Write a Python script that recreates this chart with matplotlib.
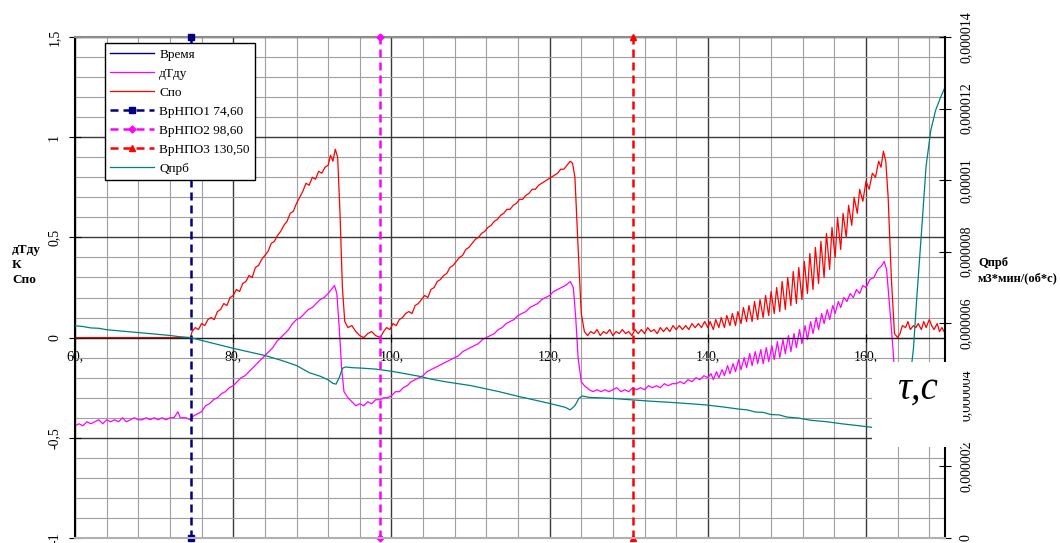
import matplotlib

matplotlib.use('Agg')
import matplotlib.pyplot as plt
from matplotlib.patches import Rectangle

# ---- data ----
x_limits = [60, 170]
y_limits = [-1.0, 1.5]
q_limits = [0.0, 0.000014]

x_ticks = [60, 80, 100, 120, 140, 160]
x_tick_labels = ['60,', '80,', '100,', '120,', '140,', '160,']
y_ticks = [-1.0, -0.5, 0.0, 0.5, 1.0, 1.5]
y_tick_labels = ['-1', '-0,5', '0', '0,5', '1', '1,5']
q_ticks = [0.0, 0.000002, 0.000004, 0.000006, 0.000008, 0.00001, 0.000012, 0.000014]
q_tick_labels = ['0', '0,000002', '0,000004', '0,000006', '0,000008',
                 '0,00001', '0,000012', '0,000014']

# Спо
spo_pts = [
    (60.0, 0.0), (74.6, 0.0), (74.8, 0.03), (75.2, 0.05), (75.6, 0.04), (76.0, 0.07), (76.4, 0.06),
    (76.8, 0.09), (77.2, 0.10), (77.6, 0.09), (78.0, 0.13), (78.4, 0.14), (78.8, 0.17), (79.2, 0.16),
    (79.6, 0.20), (80.0, 0.21), (80.4, 0.24), (80.8, 0.23), (81.2, 0.27), (81.6, 0.28), (82.0, 0.31),
    (82.4, 0.30), (82.8, 0.35), (83.2, 0.36), (83.6, 0.39), (84.0, 0.41), (84.4, 0.43), (84.8, 0.47),
    (85.2, 0.48), (85.6, 0.51), (86.0, 0.53), (86.4, 0.56), (86.8, 0.58), (87.2, 0.62), (87.6, 0.63),
    (88.0, 0.67), (88.4, 0.70), (88.8, 0.73), (89.2, 0.77), (89.6, 0.76), (90.0, 0.80), (90.4, 0.79),
    (90.8, 0.83), (91.2, 0.82), (91.6, 0.85), (92.0, 0.86), (92.3, 0.91), (92.6, 0.88), (92.9, 0.94),
    (93.2, 0.90), (93.5, 0.62), (93.8, 0.25), (94.1, 0.08), (94.5, 0.05), (95.0, 0.06), (95.5, 0.03),
    (96.0, 0.01), (96.5, 0.0), (97.0, 0.02), (97.5, 0.03), (98.0, 0.01), (98.6, 0.0),
    (99.0, 0.03), (99.4, 0.05), (99.8, 0.04), (100.2, 0.07), (100.6, 0.06), (101.0, 0.09), (101.4, 0.10),
    (101.8, 0.12), (102.2, 0.13), (102.6, 0.12), (103.0, 0.16), (103.4, 0.17), (103.8, 0.19),
    (104.2, 0.21), (104.6, 0.20), (105.0, 0.24), (105.4, 0.25), (105.8, 0.28), (106.2, 0.29),
    (106.6, 0.31), (107.0, 0.32), (107.4, 0.35), (107.8, 0.36), (108.2, 0.38), (108.6, 0.40),
    (109.0, 0.41), (109.4, 0.44), (109.8, 0.45), (110.2, 0.47), (110.6, 0.49), (111.0, 0.50),
    (111.4, 0.52), (111.8, 0.53), (112.2, 0.55), (112.6, 0.56), (113.0, 0.58), (113.4, 0.59),
    (113.8, 0.61), (114.2, 0.62), (114.6, 0.64), (115.0, 0.64), (115.4, 0.66), (115.8, 0.67),
    (116.2, 0.69), (116.6, 0.69), (117.0, 0.71), (117.4, 0.72), (117.8, 0.74), (118.2, 0.74),
    (118.6, 0.76), (119.0, 0.77), (119.4, 0.78), (119.8, 0.79), (120.2, 0.80), (120.6, 0.81),
    (121.0, 0.82), (121.4, 0.84), (121.8, 0.84), (122.2, 0.86), (122.6, 0.88), (122.9, 0.87),
    (123.2, 0.80), (123.6, 0.45), (124.0, 0.12), (124.4, 0.03),
    (124.8, 0.01), (125.2, 0.03), (125.6, 0.02), (126.0, 0.04), (126.4, 0.01), (126.8, 0.03),
    (127.2, 0.02), (127.6, 0.04), (128.0, 0.01), (128.4, 0.03), (128.8, 0.02), (129.2, 0.04),
    (129.6, 0.02), (130.0, 0.03), (130.4, 0.01), (130.8, 0.04), (131.2, 0.02), (131.6, 0.04),
    (132.0, 0.02), (132.4, 0.05), (132.8, 0.03), (133.2, 0.04), (133.6, 0.02), (134.0, 0.05),
    (134.4, 0.03), (134.8, 0.05), (135.2, 0.03), (135.6, 0.06), (136.0, 0.04), (136.4, 0.06),
    (136.8, 0.04), (137.2, 0.06), (137.6, 0.04), (138.0, 0.07), (138.4, 0.05), (138.8, 0.07),
    (139.2, 0.05), (139.6, 0.08), (140.0, 0.05),
    (140.3, 0.08), (140.7, 0.04), (141.0, 0.09), (141.4, 0.05), (141.7, 0.10), (142.1, 0.05),
    (142.4, 0.11), (142.8, 0.06), (143.1, 0.12), (143.5, 0.06), (143.8, 0.13), (144.2, 0.07),
    (144.5, 0.15), (144.9, 0.08), (145.2, 0.16), (145.6, 0.08), (145.9, 0.18), (146.3, 0.09),
    (146.6, 0.19), (147.0, 0.10), (147.3, 0.21), (147.7, 0.11), (148.0, 0.23), (148.4, 0.12),
    (148.7, 0.25), (149.1, 0.13), (149.4, 0.28), (149.8, 0.14), (150.1, 0.30), (150.5, 0.16),
    (150.8, 0.33), (151.2, 0.17), (151.5, 0.35), (151.9, 0.19), (152.2, 0.38), (152.6, 0.22),
    (152.9, 0.42), (153.3, 0.24), (153.6, 0.45), (154.0, 0.27), (154.3, 0.48), (154.7, 0.30),
    (155.0, 0.52), (155.4, 0.34), (155.7, 0.55), (156.1, 0.40), (156.4, 0.60), (156.8, 0.44),
    (157.1, 0.62), (157.5, 0.50), (157.8, 0.66), (158.2, 0.56), (158.5, 0.70), (158.9, 0.62),
    (159.2, 0.74), (159.6, 0.68), (160.0, 0.78), (160.4, 0.74), (160.8, 0.82), (161.2, 0.80),
    (161.6, 0.88), (161.9, 0.85), (162.2, 0.93), (162.5, 0.88), (162.8, 0.70), (163.2, 0.30),
    (163.6, 0.02), (164.0, 0.0), (164.3, 0.02), (164.6, 0.06), (165.0, 0.05), (165.3, 0.08),
    (165.6, 0.04), (166.0, 0.06), (166.3, 0.05), (166.6, 0.07), (167.0, 0.04), (167.3, 0.08),
    (167.6, 0.05), (168.0, 0.09), (168.3, 0.06), (168.6, 0.04), (169.0, 0.07), (169.3, 0.03),
    (169.6, 0.05), (170.0, 0.02),
]

# дТду
dtdu_pts = [
    (60.0, -0.44), (60.5, -0.43), (61.0, -0.44), (61.5, -0.42), (62.0, -0.43), (62.5, -0.42),
    (63.0, -0.41), (63.5, -0.43), (64.0, -0.41), (64.5, -0.42), (65.0, -0.41), (65.5, -0.42),
    (66.0, -0.40), (66.5, -0.42), (67.0, -0.41), (67.5, -0.40), (68.0, -0.41), (68.5, -0.41),
    (69.0, -0.40), (69.5, -0.41), (70.0, -0.40), (70.5, -0.41), (71.0, -0.40), (71.5, -0.41),
    (72.0, -0.40), (72.5, -0.40), (73.0, -0.37), (73.3, -0.40), (74.0, -0.40), (74.6, -0.41),
    (75.0, -0.39), (75.5, -0.38), (76.0, -0.37), (76.5, -0.34), (77.0, -0.33), (77.5, -0.31),
    (78.0, -0.30), (78.5, -0.28), (79.0, -0.27), (79.5, -0.25), (80.0, -0.24), (80.5, -0.22),
    (81.0, -0.20), (81.5, -0.19), (82.0, -0.17), (82.5, -0.15), (83.0, -0.13), (83.5, -0.11),
    (84.0, -0.09), (84.5, -0.07), (85.0, -0.05), (85.5, -0.02), (86.0, 0.0), (86.5, 0.02),
    (87.0, 0.04), (87.5, 0.07), (88.0, 0.09), (88.5, 0.10), (89.0, 0.12), (89.5, 0.14),
    (90.0, 0.15), (90.5, 0.17), (91.0, 0.19), (91.5, 0.20), (92.0, 0.22), (92.4, 0.24),
    (92.8, 0.26), (93.1, 0.22), (93.4, 0.05), (93.7, -0.15), (94.0, -0.27), (94.5, -0.30),
    (95.0, -0.32), (95.5, -0.34), (96.0, -0.33), (96.5, -0.34), (97.0, -0.32), (97.5, -0.33),
    (98.0, -0.31), (98.6, -0.31), (99.0, -0.30), (99.5, -0.30), (100.0, -0.29), (100.5, -0.27),
    (101.0, -0.27), (101.5, -0.25), (102.0, -0.24), (102.5, -0.22), (103.0, -0.21), (103.5, -0.20),
    (104.0, -0.19), (104.5, -0.17), (105.0, -0.16), (105.5, -0.15), (106.0, -0.14), (106.5, -0.13),
    (107.0, -0.12), (107.5, -0.11), (108.0, -0.10), (108.5, -0.09), (109.0, -0.07), (109.5, -0.06),
    (110.0, -0.05), (110.5, -0.04), (111.0, -0.03), (111.5, -0.01), (112.0, 0.0), (112.5, 0.01),
    (113.0, 0.02), (113.5, 0.04), (114.0, 0.05), (114.5, 0.07), (115.0, 0.08), (115.5, 0.09),
    (116.0, 0.11), (116.5, 0.12), (117.0, 0.13), (117.5, 0.15), (118.0, 0.16), (118.5, 0.17),
    (119.0, 0.19), (119.5, 0.20), (120.0, 0.21), (120.5, 0.23), (121.0, 0.24), (121.5, 0.25),
    (122.0, 0.26), (122.6, 0.28), (123.0, 0.25), (123.3, 0.10), (123.6, -0.10), (124.0, -0.22),
    (124.4, -0.24), (125.0, -0.26), (125.5, -0.27), (126.0, -0.26), (126.5, -0.27), (127.0, -0.26),
    (127.5, -0.27), (128.0, -0.26), (128.5, -0.25), (129.0, -0.27), (129.5, -0.26), (130.0, -0.27),
    (130.5, -0.25), (131.0, -0.26), (131.5, -0.25), (132.0, -0.26), (132.5, -0.24), (133.0, -0.25),
    (133.5, -0.24), (134.0, -0.25), (134.5, -0.23), (135.0, -0.24), (135.5, -0.23), (136.0, -0.23),
    (136.5, -0.22), (137.0, -0.23), (137.5, -0.21), (138.0, -0.22), (138.5, -0.20), (139.0, -0.21),
    (139.5, -0.19), (140.0, -0.20),
    (140.4, -0.18), (140.7, -0.21), (141.1, -0.17), (141.4, -0.20), (141.8, -0.16), (142.1, -0.19),
    (142.5, -0.14), (142.8, -0.18), (143.2, -0.13), (143.5, -0.17), (143.9, -0.11), (144.2, -0.16),
    (144.6, -0.10), (144.9, -0.15), (145.3, -0.08), (145.6, -0.14), (146.0, -0.07), (146.3, -0.13),
    (146.7, -0.06), (147.0, -0.13), (147.4, -0.05), (147.7, -0.12), (148.1, -0.04), (148.4, -0.11),
    (148.8, -0.02), (149.1, -0.10), (149.5, -0.01), (149.8, -0.08), (150.2, 0.01), (150.5, -0.07),
    (150.9, 0.02), (151.2, -0.05), (151.6, 0.04), (151.9, -0.03), (152.3, 0.06), (152.6, -0.01),
    (153.0, 0.08), (153.3, 0.02), (153.7, 0.10), (154.0, 0.04), (154.4, 0.12), (154.7, 0.07),
    (155.1, 0.14), (155.4, 0.09), (155.8, 0.16), (156.1, 0.12), (156.5, 0.18), (156.8, 0.15),
    (157.2, 0.20), (157.6, 0.18), (158.0, 0.22), (158.4, 0.20), (158.8, 0.24), (159.2, 0.22),
    (159.6, 0.26), (160.0, 0.25), (160.5, 0.29), (161.0, 0.30), (161.5, 0.34), (162.0, 0.36),
    (162.3, 0.38), (162.6, 0.34), (163.0, 0.15), (163.4, -0.05), (163.8, -0.30), (164.2, -0.45),
    (164.6, -0.50),
]

# Qпрб, м3*мин/(об*с)
qprb_pts = [
    (60.0, 5.93e-6), (61.0, 5.91e-6), (62.0, 5.87e-6), (63.0, 5.86e-6), (64.0, 5.82e-6),
    (65.0, 5.80e-6), (66.0, 5.78e-6), (67.0, 5.76e-6), (68.0, 5.74e-6), (69.0, 5.72e-6),
    (70.0, 5.70e-6), (71.0, 5.68e-6), (72.0, 5.66e-6), (73.0, 5.63e-6), (74.6, 5.60e-6),
    (76.0, 5.52e-6), (78.0, 5.41e-6), (80.0, 5.30e-6), (82.0, 5.20e-6), (84.0, 5.10e-6),
    (86.0, 4.97e-6), (88.0, 4.82e-6), (89.6, 4.62e-6), (91.0, 4.52e-6), (92.0, 4.42e-6),
    (92.6, 4.32e-6), (93.0, 4.30e-6), (93.4, 4.48e-6), (93.8, 4.74e-6), (94.2, 4.78e-6),
    (95.0, 4.76e-6), (96.0, 4.75e-6), (98.0, 4.72e-6), (100.0, 4.66e-6), (102.0, 4.58e-6),
    (103.5, 4.52e-6), (105.0, 4.44e-6), (107.0, 4.36e-6), (110.0, 4.26e-6), (113.6, 4.09e-6),
    (116.0, 3.96e-6), (118.0, 3.86e-6), (120.0, 3.76e-6), (122.0, 3.65e-6), (122.6, 3.58e-6),
    (123.2, 3.70e-6), (123.7, 3.90e-6), (124.1, 3.97e-6), (125.0, 3.93e-6), (128.0, 3.90e-6),
    (130.4, 3.86e-6), (133.0, 3.82e-6), (136.0, 3.78e-6), (139.7, 3.72e-6), (142.0, 3.66e-6),
    (144.0, 3.60e-6), (145.0, 3.58e-6), (146.0, 3.52e-6), (147.0, 3.51e-6), (148.0, 3.45e-6),
    (149.0, 3.44e-6), (150.0, 3.38e-6), (151.5, 3.35e-6), (153.0, 3.29e-6), (155.0, 3.25e-6),
    (157.0, 3.19e-6), (159.0, 3.14e-6), (160.5, 3.10e-6), (162.0, 3.05e-6), (163.0, 3.00e-6),
    (164.0, 2.95e-6), (165.0, 3.40e-6), (165.5, 4.30e-6), (166.0, 5.30e-6), (166.4, 6.65e-6),
    (167.0, 8.50e-6), (167.6, 10.4e-6), (168.2, 11.4e-6), (168.8, 11.95e-6), (169.4, 12.3e-6),
    (170.0, 12.6e-6),
]

vr_labels = ['ВрНПО1 74,60', 'ВрНПО2 98,60', 'ВрНПО3 130,50']
vr_times = [74.6, 98.6, 130.5]
vr_colors = ['#000080', '#ff00ff', '#ff0000']
vr_markers = ['s', 'D', '^']

plt.rcParams['font.family'] = ['Liberation Serif', 'DejaVu Serif']
plt.rcParams['font.size'] = 10

fig = plt.figure(figsize=(10.6, 5.43), dpi=100)
ax = fig.add_axes([0.0708, 0.0092, 0.8208, 0.9227])
ax2 = ax.twinx()

spo_t, spo_v = zip(*spo_pts)
dtdu_t, dtdu_v = zip(*dtdu_pts)
q_t, q_v = zip(*qprb_pts)

ax.plot([], [], color='#000080', lw=1.0, label='Время')
ax.plot(dtdu_t, dtdu_v, color='#ff00ff', lw=0.9, label='дТду')
ax.plot(spo_t, spo_v, color='#ff0000', lw=0.9, label='Спо')
for t, lab, col, mk in zip(vr_times, vr_labels, vr_colors, vr_markers):
    ax.plot([t, t], y_limits, color=col, lw=1.8, dashes=(3.2, 2.0), marker=mk,
            markersize=5 if mk != 'D' else 3.5, clip_on=False, zorder=4, label=lab)
q_line, = ax2.plot(q_t, q_v, color='#008080', lw=0.9, label='Qпрб')

ax.set_xlim(x_limits)
ax.set_ylim(y_limits)
ax2.set_ylim(q_limits)

# grid: minor every 4 s / 0.1, major every 20 s / 0.5
ax.set_xticks(x_ticks)
ax.set_xticklabels(x_tick_labels)
ax.set_xticks([v for v in range(60, 171, 4)], minor=True)
ax.set_yticks(y_ticks)
ax.set_yticklabels(y_tick_labels, rotation=90, va='center')
ax.set_yticks([round(-1 + 0.1 * i, 1) for i in range(26)], minor=True)
ax.grid(which='minor', color='#a0a0a0', lw=0.8)
ax.grid(which='major', color='#3a3a3a', lw=1.0)
ax.set_axisbelow(True)
ax.tick_params(which='minor', length=0)
ax.tick_params(axis='x', which='major', direction='inout', length=6, pad=6, labelsize=10)
ax.tick_params(axis='y', which='major', direction='inout', length=8, pad=6, labelsize=10)

ax.spines['bottom'].set_position(('data', 0))
ax.spines['bottom'].set_color('#202020')
ax.spines['left'].set_linewidth(1.5)
ax.spines['top'].set_color('#8c8c8c')
ax.spines['top'].set_linewidth(1.5)
ax.spines['right'].set_visible(False)

ax2.set_yticks(q_ticks)
ax2.set_yticklabels(q_tick_labels, rotation=90, va='center')
ax2.tick_params(axis='y', direction='inout', length=9, pad=6, labelsize=10)
ax2.spines['right'].set_linewidth(1.5)
ax2.spines['left'].set_visible(False)
ax2.spines['top'].set_visible(False)
ax2.spines['bottom'].set_color('#b0b0b0')
ax2.spines['bottom'].set_linewidth(1.5)

handles, labels = ax.get_legend_handles_labels()
handles.append(q_line)
labels.append('Qпрб')
leg = ax2.legend(handles, labels, loc='upper left', bbox_to_anchor=(0.0345, 0.988),
                 borderaxespad=0, fontsize=9.5, handlelength=3.3, handletextpad=0.4,
                 labelspacing=0.52, borderpad=0.4, fancybox=False, framealpha=1,
                 edgecolor='black')
leg.get_frame().set_linewidth(1.0)

fig.text(0.0113, 0.512, 'дТду\nК\nСпо', fontsize=9.5, fontweight='bold',
         ha='left', va='center', linespacing=1.35)
fig.text(0.9226, 0.501, 'Qпрб\nм3*мин/(об*с)', fontsize=9, fontweight='bold',
         ha='left', va='center', linespacing=1.4)

# white patch with the axis caption
fig.patches.append(Rectangle((0.8226, 0.1768), 0.086, 0.156, transform=fig.transFigure,
                             facecolor='white', edgecolor='none', zorder=10))
fig.text(0.866, 0.284, 'τ,с', fontsize=28, style='italic', ha='center', va='center',
         zorder=11)

fig.savefig('out.png', dpi=100)
